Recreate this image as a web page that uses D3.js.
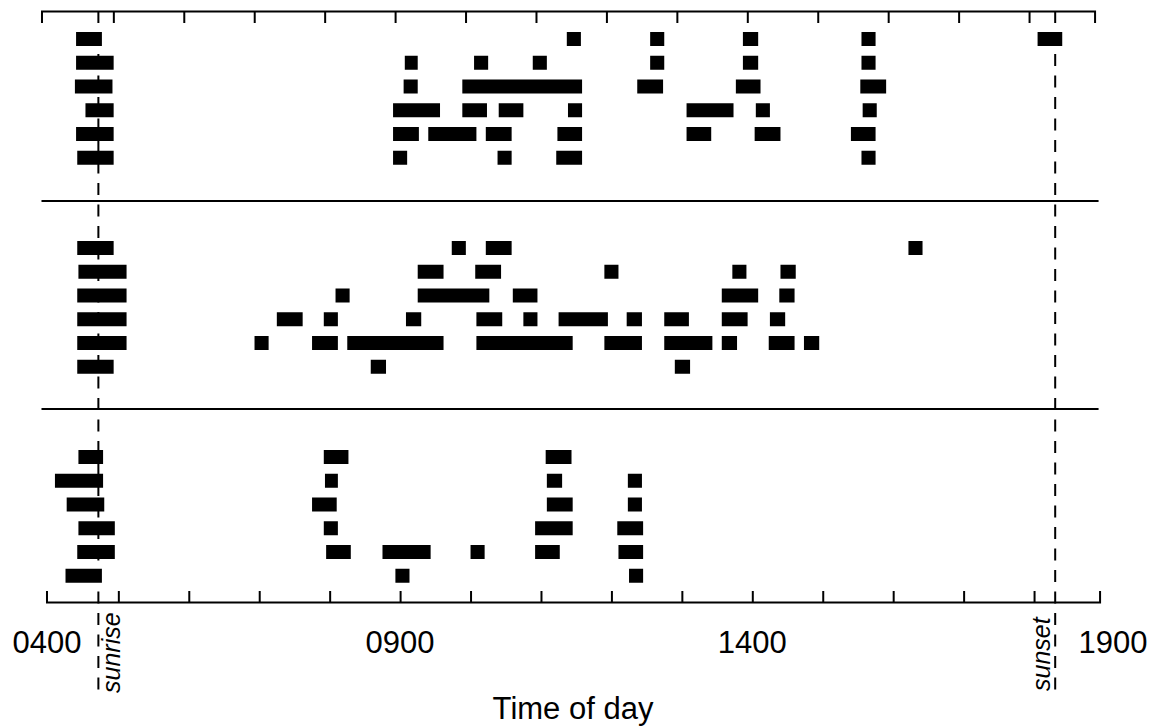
<!DOCTYPE html>
<html>
<head>
<meta charset="utf-8">
<script src="https://cdn.jsdelivr.net/npm/d3@7.9.0/dist/d3.min.js"></script>
<style>
  body { margin: 0; background: #fff; }
  svg { display: block; font-family: "Liberation Sans", Arial, sans-serif; }
</style>
</head>
<body>
<div id="chart"></div>
<script>
// Activity bouts, one list per row, "start-end" as 24h clock
const panelA = [
  ["0424-0446", "1122-1134", "1233-1245", "1352-1405", "1533-1545", "1803-1824"],
  ["0424-0456", "0904-0915", "1003-1015", "1053-1105", "1233-1245", "1352-1405", "1533-1545"],
  ["0423-0455", "0903-0915", "0953-1135", "1222-1244", "1346-1407", "1532-1554"],
  ["0432-0456", "0854-0934", "0953-1014", "1024-1045", "1123-1135", "1304-1344", "1403-1415", "1534-1546"],
  ["0424-0456", "0854-0916", "0924-1005", "1013-1035", "1114-1135", "1304-1325", "1402-1424", "1524-1545"],
  ["0425-0456", "0854-0906", "1023-1035", "1113-1135", "1533-1545"]
];
const panelB = [
  ["0425-0456", "0944-0956", "1013-1035", "1613-1625"],
  ["0426-0507", "0915-0937", "1004-1026", "1154-1206", "1343-1355", "1424-1437"],
  ["0425-0507", "0805-0817", "0915-1016", "1036-1057", "1334-1405", "1423-1436"],
  ["0425-0507", "0715-0737", "0755-0807", "0905-0918", "1005-1027", "1045-1057", "1115-1157", "1213-1226", "1245-1306", "1334-1356", "1415-1428"],
  ["0425-0507", "0656-0708", "0745-0807", "0815-0937", "1005-1127", "1154-1226", "1245-1326", "1334-1347", "1414-1436", "1444-1457"],
  ["0425-0456", "0835-0848", "1254-1307"]
];
const panelC = [
  ["0426-0447", "0755-0816", "1104-1126"],
  ["0406-0447", "0756-0807", "1105-1118", "1214-1226"],
  ["0416-0448", "0745-0806", "1105-1127", "1214-1226"],
  ["0426-0457", "0755-0807", "1055-1127", "1205-1227"],
  ["0425-0457", "0757-0818", "0845-0926", "1000-1012", "1055-1116", "1206-1227"],
  ["0415-0446", "0856-0908", "1215-1227"]
];
const panels = [panelA, panelB, panelC];

const sunTimes = [
  { label: "sunrise", time: "0443", side: "right" },
  { label: "sunset", time: "1818", side: "left" }
];
const minorHours = d3.range(5, 19);
const labelHours = [4, 9, 14, 19];
const axisExtent = [3.98, 18.93];
const xTitle = "Time of day";

function toHours(hhmm) {
  return +hhmm.slice(0, 2) + +hhmm.slice(2) / 60;
}
function fmtHour(h) {
  return String(h).padStart(2, "0") + "00";
}

const bars = [];
panels.forEach((rows, p) => {
  rows.forEach((row, r) => {
    row.forEach(span => {
      const [s, e] = span.split("-");
      bars.push({ panel: p, row: r, start: toHours(s), end: toHours(e) });
    });
  });
});

// layout
const width = 1154, height = 726;
const axisTopY = 11, axisBottomY = 602;
const dividerY = [201, 409];
const barH = 14;

const x = d3.scaleLinear().domain([4, 19]).range([47.9, 1104.5]);
const xAxisScale = x.copy().domain(axisExtent).range(axisExtent.map(x));
// the top frame sits a few pixels left of the bottom one in the original
const xTopScale = xAxisScale.copy().range(axisExtent.map(d => x(d) - 5));

const panelY = d3.scaleLinear().domain([0, 2]).range([39, 457]);
const rowY = d3.scaleLinear().domain([0, 5]).range([0, 118.75]);

const svg = d3.select("#chart")
  .append("svg")
  .attr("width", width)
  .attr("height", height);

// Panel dividers
svg.append("g")
  .selectAll("line")
  .data(dividerY)
  .join("line")
  .attr("x1", xTopScale(axisExtent[0]))
  .attr("x2", xAxisScale(axisExtent[1]) - 1)
  .attr("y1", d => d)
  .attr("y2", d => d)
  .attr("stroke", "#000")
  .attr("stroke-width", 2);

// Sunrise / sunset dashed lines
const sun = svg.append("g");
sun.selectAll("line")
  .data(sunTimes)
  .join("line")
  .attr("x1", d => x(toHours(d.time)))
  .attr("x2", d => x(toHours(d.time)))
  .attr("y1", axisTopY)
  .attr("y2", 699)
  .attr("stroke", "#000")
  .attr("stroke-width", 2)
  .attr("stroke-dasharray", "12,9.5");

sun.selectAll("text")
  .data(sunTimes)
  .join("text")
  .attr("transform", d => {
    const cx = x(toHours(d.time));
    return d.side === "right"
      ? `translate(${cx + 21.5},693) rotate(-90)`
      : `translate(${cx - 5},691) rotate(-90)`;
  })
  .attr("font-size", 25)
  .attr("font-style", "italic")
  .attr("fill", "#000")
  .text(d => d.label);

// Bars
svg.append("g")
  .selectAll("rect")
  .data(bars)
  .join("rect")
  .attr("x", d => x(d.start))
  .attr("width", d => x(d.end) - x(d.start))
  .attr("y", d => panelY(d.panel) + rowY(d.row) - barH / 2)
  .attr("height", barH)
  .attr("fill", "#000");

// Axes
const bottomAxis = svg.append("g")
  .attr("transform", `translate(0,${axisBottomY})`)
  .call(d3.axisBottom(xAxisScale)
    .tickValues(minorHours)
    .tickSize(-11)
    .tickSizeOuter(-11)
    .tickFormat(""));

const topAxis = svg.append("g")
  .attr("transform", `translate(0,${axisTopY})`)
  .call(d3.axisTop(xTopScale)
    .tickValues(minorHours)
    .tickSize(-12)
    .tickSizeOuter(-12)
    .tickFormat(""));

[bottomAxis, topAxis].forEach(g => {
  g.selectAll("path, line").attr("stroke", "#000").attr("stroke-width", 2);
});

svg.append("g")
  .selectAll("text")
  .data(labelHours)
  .join("text")
  .attr("x", d => x(d))
  .attr("dx", d => d === 19 ? 8.5 : (d === 4 ? -1 : 0))
  .attr("y", 653)
  .attr("text-anchor", "middle")
  .attr("font-size", 31)
  .attr("fill", "#000")
  .text(fmtHour);

svg.append("text")
  .attr("x", (xAxisScale(axisExtent[0]) + xAxisScale(axisExtent[1])) / 2)
  .attr("y", 719)
  .attr("text-anchor", "middle")
  .attr("font-size", 31)
  .attr("fill", "#000")
  .text(xTitle);
</script>
</body>
</html>
